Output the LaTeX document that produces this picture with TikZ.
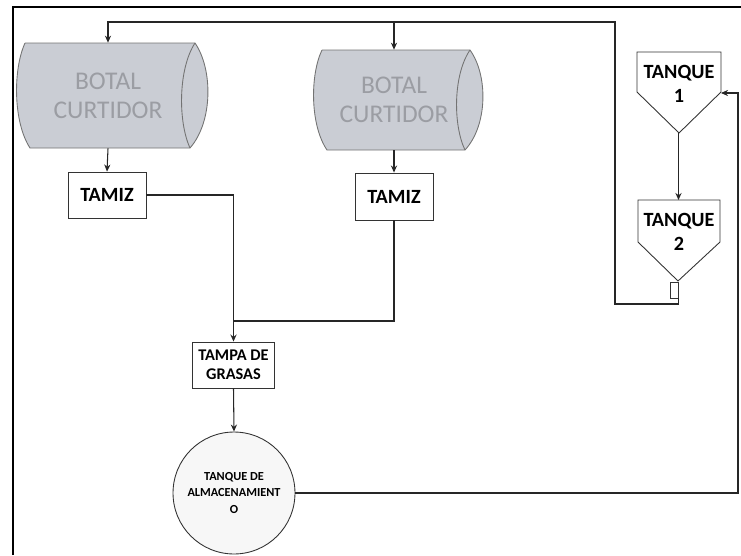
\documentclass[tikz,border=0pt]{standalone}
\usepackage{fontspec}
\setmainfont{Carlito}
\usetikzlibrary{arrows.meta}
\definecolor{drumfill}{RGB}{202,205,212}
\definecolor{drumtext}{RGB}{155,157,163}
\tikzset{
  flow/.style={draw=black!85, line width=0.6pt},
  arr/.style={flow, -{Stealth[length=4pt,width=3.5pt]}},
  boxnode/.style={draw=black!80, line width=0.5pt, fill=white, align=center, font=\bfseries\fontsize{11.5}{13}\selectfont},
  drumlabel/.style={align=center, text=drumtext, font=\fontsize{14.5}{16.5}\selectfont, minimum width=3cm},
  tanklabel/.style={align=center, font=\bfseries\fontsize{11.5}{14}\selectfont}
}
\begin{document}
\begin{tikzpicture}[x=0.02cm, y=-0.02cm]
		\useasboundingbox (0,0) rectangle (741,555);
		%Frame
		\draw[line width=1.1pt] (13,555)--(13,7)--(741,7);
		%Drums
		\foreach \cx/\cy/\w/\h in {110/95.5/85/52.5, 396/100/74/50}
		{
		\filldraw[draw=black!55, fill=drumfill, line width=0.5pt] (\cx-\w,\cy-\h)--(\cx+\w,\cy-\h) .. controls (\cx+\w+18,\cy-\h/2) and (\cx+\w+18,\cy+\h/2) .. (\cx+\w-5,\cy+\h)--(\cx-\w+5,\cy+\h) .. controls (\cx-\w-12,\cy+\h/2) and (\cx-\w-12,\cy-\h/2) .. (\cx-\w,\cy-\h);
		\draw[black!55, line width=0.5pt] (\cx+\w,\cy-\h) .. controls (\cx+\w-17,\cy-\h/2) and (\cx+\w-17,\cy+\h/2) .. (\cx+\w-5,\cy+\h);
		}
		\node[drumlabel, minimum height=2.1cm] (b1) at (108,95.5) {BOTAL\\CURTIDOR};
		\node[drumlabel, minimum height=2cm] (b2) at (394,100) {BOTAL\\CURTIDOR};
		%Screens and grease trap
		\node[boxnode, minimum width=1.56cm, minimum height=0.92cm] (s1) at (107,195) {TAMIZ};
		\node[boxnode, minimum width=1.56cm, minimum height=0.94cm] (s2) at (394,196.5) {TAMIZ};
		\node[boxnode, minimum width=1.58cm, minimum height=0.92cm, font=\bfseries\fontsize{9.3}{11}\selectfont] (gt) at (233.5,365) {TAMPA DE\\GRASAS};
		\node[boxnode, circle, minimum size=2.44cm, inner sep=0pt, font=\bfseries\fontsize{7}{9.4}\selectfont, fill=black!3] (st) at (234,493) {TANQUE DE\\ALMACENAMIENT\\O};
		%Tanks
		\filldraw[draw=black!80, fill=white, line width=0.5pt] (637,52)--(721,52)--(721,92)--(679,133)--(637,92)--cycle;
		\filldraw[draw=black!80, fill=white, line width=0.5pt] (638,200)--(720,200)--(720,242)--(678,281)--(638,242)--cycle;
		\node[draw=black!80, line width=0.5pt, minimum width=0.16cm, minimum height=0.32cm, inner sep=0pt] (vl) at (674,290) {};
		\node[tanklabel] (k1) at (679,84) {TANQUE\\1};
		\node[tanklabel] (k2) at (679,232) {TANQUE\\2};
		\coordinate (k1in) at (721,93);
		\coordinate (k1tip) at (678.5,133);
		\coordinate (k2top) at (678.5,200);
		\coordinate (ret) at (738,93);
		\coordinate (lo) at (615,304);
		\coordinate (hi) at (615,22);
		\coordinate (mg) at (233.5,321);
		%Connectors
		\draw[arr] (vl.south east)--(vl.south east |- lo)--(lo)--(hi)-|(b1.north);
		\draw[arr] (b2.north |- hi)--(b2.north);
		\draw[arr] (b1.south)--(s1.north);
		\draw[arr] (b2.south)--(s2.north);
		\draw[flow] (s1.east)-|(mg);
		\draw[flow] (s2.south)|-(mg);
		\draw[arr] (mg)--(gt.north);
		\draw[arr] (gt.south)--(st.north);
		\draw[arr] (st.east)-|(ret)--(k1in);
		\draw[arr] (k1tip)--(k2top);
\end{tikzpicture}
\end{document}
